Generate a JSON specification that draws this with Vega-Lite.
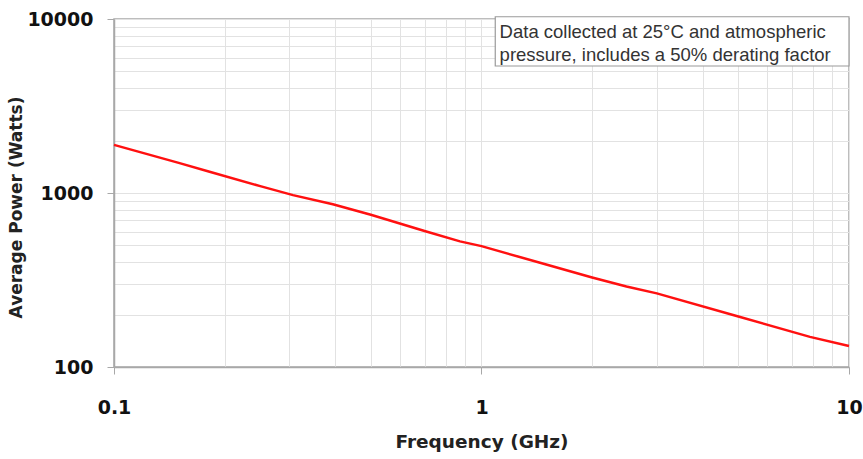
{
  "$schema": "https://vega.github.io/schema/vega-lite/v6.json",
  "width": 735,
  "height": 348,
  "autosize": {"type": "none"},
  "padding": {"left": 114, "top": 19, "right": 14, "bottom": 92},
  "background": "white",
  "config": {
    "font": "Liberation Sans",
    "view": {"stroke": "#a8a8a8", "strokeWidth": 1.5}
  },
  "datasets": {
    "power": [
      {"freq": 0.1, "watts": 1890},
      {"freq": 0.15, "watts": 1490},
      {"freq": 0.182, "watts": 1325},
      {"freq": 0.25, "watts": 1095},
      {"freq": 0.307, "watts": 972},
      {"freq": 0.394, "watts": 862},
      {"freq": 0.5, "watts": 750},
      {"freq": 0.7, "watts": 605},
      {"freq": 0.874, "watts": 527},
      {"freq": 1, "watts": 495},
      {"freq": 1.5, "watts": 388},
      {"freq": 2, "watts": 327},
      {"freq": 2.48, "watts": 290},
      {"freq": 3, "watts": 265},
      {"freq": 5, "watts": 195},
      {"freq": 7.83, "watts": 149},
      {"freq": 10, "watts": 132}
    ],
    "note": [
      {"text": "Data collected at 25°C and atmospheric\npressure, includes a 50% derating factor"}
    ]
  },
  "layer": [
    {
      "data": {"name": "power"},
      "mark": {"type": "line", "color": "#ff1010", "strokeWidth": 2.5},
      "encoding": {
        "x": {
          "field": "freq",
          "type": "quantitative",
          "scale": {"type": "log", "domain": [0.1, 10], "nice": false},
          "axis": {
            "title": "Frequency (GHz)",
            "titleFont": "DejaVu Sans",
            "titleFontSize": 18.5,
            "titleFontWeight": "bold",
            "titleColor": "#222",
            "titlePadding": 15,
            "values": [0.1, 0.2, 0.3, 0.4, 0.5, 0.6, 0.7, 0.8, 0.9, 1, 2, 3, 4, 5, 6, 7, 8, 9, 10],
            "labelExpr": "abs(log(datum.value)/LN10 - round(log(datum.value)/LN10)) < 0.001 ? format(datum.value, '') : ''",
            "labelFont": "DejaVu Sans",
            "labelFontSize": 19,
            "labelFontWeight": "bold",
            "labelColor": "#111",
            "labelPadding": 24,
            "labelFlush": false,
            "labelOverlap": false,
            "tickSize": 7,
            "tickColor": "#a8a8a8",
            "tickOpacity": {"condition": {"test": "abs(log(datum.value)/LN10 - round(log(datum.value)/LN10)) < 0.001", "value": 1}, "value": 0},
            "domainColor": "#a8a8a8",
            "domainWidth": 1.5,
            "grid": true,
            "gridColor": "#e2e2e2",
            "gridWidth": 1
          }
        },
        "y": {
          "field": "watts",
          "type": "quantitative",
          "scale": {"type": "log", "domain": [100, 10000], "nice": false},
          "axis": {
            "title": "Average Power (Watts)",
            "titleFont": "DejaVu Sans",
            "titleFontSize": 17,
            "titleFontWeight": "bold",
            "titleColor": "#222",
            "titlePadding": 1,
            "titleY": 188,
            "values": [100, 200, 300, 400, 500, 600, 700, 800, 900, 1000, 2000, 3000, 4000, 5000, 6000, 7000, 8000, 9000, 10000],
            "labelExpr": "abs(log(datum.value)/LN10 - round(log(datum.value)/LN10)) < 0.001 ? format(datum.value, 'd') : ''",
            "labelFont": "DejaVu Sans",
            "labelFontSize": 19,
            "labelFontWeight": "bold",
            "labelColor": "#111",
            "labelPadding": 14,
            "labelFlush": false,
            "labelOverlap": false,
            "tickSize": 7,
            "tickColor": "#a8a8a8",
            "tickOpacity": {"condition": {"test": "abs(log(datum.value)/LN10 - round(log(datum.value)/LN10)) < 0.001", "value": 1}, "value": 0},
            "domainColor": "#a8a8a8",
            "domainWidth": 1.5,
            "grid": true,
            "gridColor": "#e2e2e2",
            "gridWidth": 1
          }
        }
      }
    },
    {
      "data": {"name": "note"},
      "mark": {"type": "rect", "fill": "white", "stroke": "#9a9a9a", "strokeWidth": 1.2},
      "encoding": {
        "x": {"datum": 1.09, "type": "quantitative"},
        "x2": {"datum": 10},
        "y": {"datum": 10300, "type": "quantitative"},
        "y2": {"datum": 5370}
      }
    },
    {
      "data": {"name": "note"},
      "mark": {"type": "text", "align": "left", "baseline": "top", "fontSize": 18.5, "color": "#333", "lineBreak": "\n", "lineHeight": 23},
      "encoding": {
        "x": {"datum": 1.12, "type": "quantitative"},
        "y": {"datum": 9450, "type": "quantitative"},
        "text": {"field": "text"}
      }
    }
  ]
}
